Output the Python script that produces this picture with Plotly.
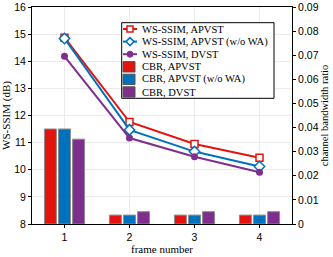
import plotly.graph_objects as go

frames = [1, 2, 3, 4]
ssim_apvst = [14.87, 11.76, 10.95, 10.44]
ssim_apvst_nowa = [14.84, 11.47, 10.67, 10.12]
ssim_dvst = [14.18, 11.17, 10.48, 9.91]
cbr_apvst = [0.0394, 0.0037, 0.0037, 0.0037]
cbr_apvst_nowa = [0.0394, 0.0037, 0.0037, 0.0037]
cbr_dvst = [0.0352, 0.0051, 0.0051, 0.0051]
legend_labels = ["WS-SSIM, APVST", "WS-SSIM, APVST (w/o WA)", "WS-SSIM, DVST",
                 "CBR, APVST", "CBR, APVST (w/o WA)", "CBR, DVST"]

RED = "#E3140F"
BLUE = "#0072BD"
PURPLE = "#7E2F8E"
serif = "Liberation Serif"
sans = "Liberation Sans"

W, H = 333, 257
L, R, T, B = 32, 41, 7, 33
PW, PH = W - L - R, H - T - B


def px(x):
    return (x - L) / PW


def py(y):
    return (H - B - y) / PH


fig = go.Figure()
fig.add_trace(go.Scatter(x=frames, y=ssim_apvst, name=legend_labels[0], mode="lines+markers",
                         line=dict(color=RED, width=2),
                         marker=dict(symbol="square", size=7, color="white", line=dict(width=1.5, color=RED)),
                         yaxis="y", showlegend=False))
fig.add_trace(go.Scatter(x=frames, y=ssim_apvst_nowa, name=legend_labels[1], mode="lines+markers",
                         line=dict(color=BLUE, width=2),
                         marker=dict(symbol="diamond", size=8, color="white", line=dict(width=1.5, color=BLUE)),
                         yaxis="y", showlegend=False))
fig.add_trace(go.Scatter(x=frames, y=ssim_dvst, name=legend_labels[2], mode="lines+markers",
                         line=dict(color=PURPLE, width=2),
                         marker=dict(symbol="circle", size=7, color=PURPLE),
                         yaxis="y", showlegend=False))
for vals, nm, col in [(cbr_apvst, legend_labels[3], RED), (cbr_apvst_nowa, legend_labels[4], BLUE),
                      (cbr_dvst, legend_labels[5], PURPLE)]:
    fig.add_trace(go.Bar(x=frames, y=vals, name=nm,
                         marker=dict(color=col, line=dict(color="#8c8c8c", width=1)),
                         yaxis="y2", showlegend=False))

# custom compact legend
shapes = []
annotations = []
bx0, bx1, by0, by1 = 121.7, 274, 22.7, 98.3
shapes.append(dict(type="rect", xref="paper", yref="paper", x0=px(bx0), x1=px(bx1), y0=py(by1), y1=py(by0),
                   fillcolor="white", line=dict(color="black", width=1)))
row_h = (by1 - by0) / 6
colors = [RED, BLUE, PURPLE, RED, BLUE, PURPLE]
for i, lab in enumerate(legend_labels):
    yc = by0 + row_h * (i + 0.5)
    if i < 3:
        c = colors[i]
        shapes.append(dict(type="line", xref="paper", yref="paper", x0=px(123), x1=px(137),
                           y0=py(yc), y1=py(yc), line=dict(color=c, width=2)))
        if i == 0:
            shapes.append(dict(type="rect", xref="paper", yref="paper", x0=px(127), x1=px(133),
                               y0=py(yc + 3), y1=py(yc - 3), fillcolor="white", line=dict(color=c, width=1.5)))
        elif i == 1:
            xc = 130
            path = "M {a},{b} L {c},{d} L {a},{e} L {f},{d} Z".format(
                a=px(xc), b=py(yc - 4), c=px(xc + 4), d=py(yc), e=py(yc + 4), f=px(xc - 4))
            shapes.append(dict(type="path", xref="paper", yref="paper", path=path,
                               fillcolor="white", line=dict(color=c, width=1.5)))
        else:
            shapes.append(dict(type="circle", xref="paper", yref="paper", x0=px(127), x1=px(133),
                               y0=py(yc + 3), y1=py(yc - 3), fillcolor=c, line=dict(color=c, width=1)))
    else:
        shapes.append(dict(type="rect", xref="paper", yref="paper", x0=px(123), x1=px(135),
                           y0=py(yc + 5.2), y1=py(yc - 5.2), fillcolor=colors[i],
                           line=dict(color="#555555", width=1)))
    annotations.append(dict(xref="paper", yref="paper", x=px(140), y=py(yc), xanchor="left", yanchor="middle",
                            text=lab, showarrow=False, font=dict(family=serif, size=10.5, color="black")))

fig.update_layout(
    width=W, height=H,
    margin=dict(l=L, r=R, t=T, b=B, autoexpand=False),
    plot_bgcolor="white", paper_bgcolor="white",
    barmode="group", bargap=0.35, bargroupgap=0.15,
    font=dict(family=sans, size=10.5, color="black"),
    xaxis=dict(range=[0.5, 4.5], tickvals=frames, showgrid=True, gridcolor="#ebebeb",
               showline=True, linecolor="black", linewidth=1, mirror=True,
               ticks="outside", ticklen=3, tickcolor="black", automargin=False,
               title=dict(text="frame number", font=dict(family=serif, size=11), standoff=1)),
    yaxis=dict(range=[8, 16], dtick=1, showgrid=True, gridcolor="#ebebeb",
               showline=True, linecolor="black", linewidth=1, automargin=False,
               ticks="outside", ticklen=3, tickcolor="black", zeroline=False,
               title=dict(text="WS-SSIM (dB)", font=dict(family=serif, size=11), standoff=1)),
    yaxis2=dict(range=[0, 0.09], overlaying="y", side="right", showgrid=False,
                showline=True, linecolor="black", linewidth=1, automargin=False,
                ticks="outside", ticklen=3, tickcolor="black", zeroline=False,
                tickvals=[0, 0.01, 0.02, 0.03, 0.04, 0.05, 0.06, 0.07, 0.08, 0.09],
                ticktext=["0", "0.01", "0.02", "0.03", "0.04", "0.05", "0.06", "0.07", "0.08", "0.09"],
                title=dict(text="channel bandwidth ratio", font=dict(family=serif, size=10.5), standoff=1)),
    shapes=shapes,
    annotations=annotations,
    showlegend=False,
)
fig.write_html("out.html", config={"displayModeBar": False},
               post_script="document.body.style.margin='0';document.body.style.padding='0';")
